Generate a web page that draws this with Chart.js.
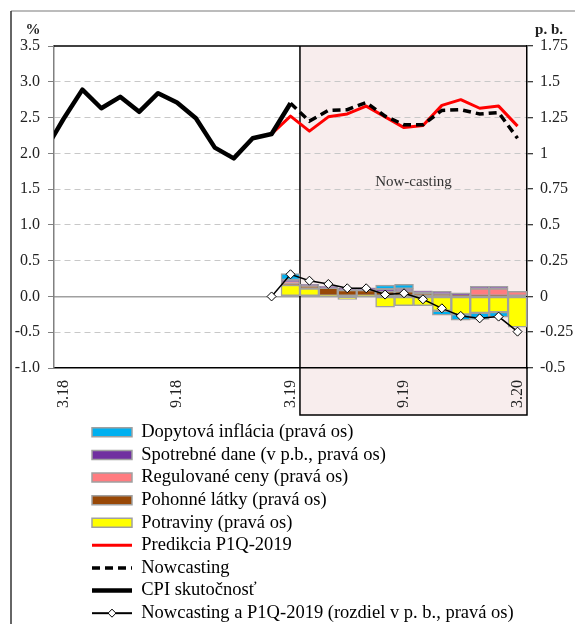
<!DOCTYPE html>
<html><head><meta charset="utf-8">
<script src="https://cdn.jsdelivr.net/npm/chart.js@4.4.1/dist/chart.umd.min.js"></script>
<style>html,body{margin:0;padding:0;background:#fff;}canvas{display:block;}</style>
</head><body>
<canvas id="c" width="575" height="624"></canvas>
<script>
// ---- data ----
const categories = ['2.18','3.18','4.18','5.18','6.18','7.18','8.18','9.18','10.18','11.18','12.18','1.19','2.19','3.19','4.19','5.19','6.19','7.19','8.19','9.19','10.19','11.19','12.19','1.20','2.20','3.20'];
const tickLabels = ['3.18','9.18','3.19','9.19','3.20'];
const firstShown = '3.18';
const nowcastStart = '4.19';
const cpiActual = [2.03,2.48,2.89,2.63,2.79,2.58,2.84,2.71,2.49,2.08,1.93,2.21,2.27,2.70,null,null,null,null,null,null,null,null,null,null,null,null];
const prediction = [null,null,null,null,null,null,null,null,null,null,null,null,2.27,2.52,2.31,2.51,2.55,2.66,2.51,2.36,2.39,2.67,2.75,2.63,2.66,2.38];
const nowcast = [null,null,null,null,null,null,null,null,null,null,null,null,null,2.70,2.45,2.60,2.61,2.71,2.52,2.40,2.40,2.60,2.61,2.55,2.57,2.21];
const diffPb = [null,null,null,null,null,null,null,null,null,null,null,null,0.0,0.155,0.11,0.087,0.057,0.057,0.013,0.022,-0.02,-0.083,-0.136,-0.153,-0.141,-0.246];
const N13 = [null,null,null,null,null,null,null,null,null,null,null,null,null];
const food = N13.concat([0.08,0.055,0.005,-0.02,0.005,-0.075,-0.065,-0.065,-0.1,-0.125,-0.115,-0.11,-0.215]);
const fuel = N13.concat([0.01,0.02,0.055,0.045,0.04,0.035,0.035,0.025,0.015,0.005,0.005,0.005,null]);
const regulated = N13.concat([0.01,null,null,null,null,null,null,null,null,null,0.05,0.05,0.035]);
const excise = N13.concat([0.015,0.01,0.01,0.015,0.015,0.015,0.02,0.015,0.02,0.02,0.015,0.015,null]);
const demand = N13.concat([0.045,null,null,null,null,0.03,0.03,null,-0.03,-0.04,-0.045,-0.035,null]);

const SERIF = "'Liberation Serif','Times New Roman',serif";
Chart.defaults.font.family = SERIF;
Chart.defaults.color = '#222';

// legend sample for the diff series
const diffIcon = document.createElement('canvas');
diffIcon.width = 40; diffIcon.height = 12;
(function(){
  const g = diffIcon.getContext('2d');
  g.strokeStyle = '#000'; g.lineWidth = 2;
  g.beginPath(); g.moveTo(0,6); g.lineTo(40,6); g.stroke();
  g.beginPath(); g.moveTo(20,2); g.lineTo(24,6); g.lineTo(20,10); g.lineTo(16,6); g.closePath();
  g.fillStyle = '#fff'; g.fill(); g.lineWidth = 1; g.stroke();
})();
const PAD = '\u00a0'.repeat(70);
const LEGEND_X = 92;

const barStyle = (label, data, color, order) => ({
  type: 'bar', label, data, backgroundColor: color, borderColor: '#a0a0a0', borderWidth: 1.5,
  borderSkipped: false, yAxisID: 'y2', stack: 'contrib', order,
  barPercentage: 1, categoryPercentage: 1
});

const decor = {
  id: 'decor',
  beforeDraw(chart) {
    const {ctx, chartArea: a, scales: {x, y}} = chart;
    if (chart.legend) chart.legend.left = LEGEND_X - chart.legend.options.labels.padding;
    ctx.save();
    // outer frame
    ctx.lineWidth = 1.5;
    ctx.strokeStyle = '#a6a6a6';
    ctx.beginPath(); ctx.moveTo(11, 11); ctx.lineTo(575, 11); ctx.stroke();
    ctx.strokeStyle = '#333';
    ctx.beginPath(); ctx.moveTo(11, 11); ctx.lineTo(11, 624); ctx.stroke();
    // now-casting shaded area
    const i0 = categories.indexOf(nowcastStart);
    const x0 = (x.getPixelForValue(i0 - 1) + x.getPixelForValue(i0)) / 2;
    const yb = x.bottom - 4;
    ctx.fillStyle = '#f8eded';
    ctx.fillRect(x0, a.top, a.right - x0, yb - a.top);
    ctx.fillStyle = '#333';
    ctx.font = '15px ' + SERIF;
    ctx.textAlign = 'center'; ctx.textBaseline = 'middle';
    ctx.fillText('Now-casting', (x0 + a.right) / 2, y.getPixelForValue(1.6));
    // unit labels
    ctx.fillStyle = '#222';
    ctx.font = 'bold 15px ' + SERIF;
    ctx.fillText('%', a.left - 21, a.top - 16);
    ctx.fillText('p. b.', a.right + 22, a.top - 16);
    ctx.restore();
  },
  beforeDatasetsDraw(chart) {
    const {ctx, chartArea: a, scales: {x}} = chart;
    const i0 = categories.indexOf(nowcastStart);
    const x0 = (x.getPixelForValue(i0 - 1) + x.getPixelForValue(i0)) / 2;
    const yb = x.bottom - 4;
    ctx.save();
    ctx.strokeStyle = '#000'; ctx.lineWidth = 1.5;
    ctx.beginPath();
    ctx.moveTo(x0, a.top); ctx.lineTo(x0, yb); ctx.lineTo(a.right, yb); ctx.lineTo(a.right, a.bottom);
    ctx.stroke();
    ctx.beginPath(); ctx.moveTo(a.left, a.top); ctx.lineTo(a.right, a.top); ctx.stroke();
    ctx.restore();
  }
};

new Chart(document.getElementById('c'), {
  data: {
    labels: categories,
    datasets: [
      barStyle('Dopytová inflácia (pravá os)', demand, '#00b0f0', 8),
      barStyle('Spotrebné dane (v p.b., pravá os)', excise, '#7030a0', 7),
      barStyle('Regulované ceny (pravá os)', regulated, '#ff7c80', 6),
      barStyle('Pohonné látky (pravá os)', fuel, '#984807', 5),
      barStyle('Potraviny (pravá os)', food, '#ffff00', 4),
      { type: 'line', label: 'Predikcia P1Q-2019', data: prediction, borderColor: '#ff0000', backgroundColor: '#ff0000',
        borderWidth: 3, pointRadius: 0, yAxisID: 'y', order: 3, borderJoinStyle: 'round' },
      { type: 'line', label: 'Nowcasting', data: nowcast, borderColor: '#000', backgroundColor: '#000',
        borderWidth: 3.5, borderDash: [8, 5], pointRadius: 0, yAxisID: 'y', order: 2 },
      { type: 'line', label: 'CPI skutočnosť', data: cpiActual, borderColor: '#000', backgroundColor: '#000',
        borderWidth: 4.5, pointRadius: 0, yAxisID: 'y', order: 1, clip: 0, borderJoinStyle: 'round' },
      { type: 'line', label: 'Nowcasting a P1Q-2019 (rozdiel v p. b., pravá os)', data: diffPb,
        borderColor: '#000', backgroundColor: '#fff', borderWidth: 1.5, pointStyle: 'rectRot', pointRadius: 4.5,
        pointBackgroundColor: '#fff', pointBorderColor: '#000', pointBorderWidth: 1, yAxisID: 'y2', stack: 'diff', order: 0 }
    ]
  },
  options: {
    responsive: false,
    animation: false,
    devicePixelRatio: 1,
    layout: { padding: { top: 46, bottom: -8.4, left: 0, right: 0 } },
    plugins: {
      tooltip: { enabled: false },
      legend: {
        position: 'bottom', align: 'start',
        labels: {
          usePointStyle: true, pointStyleWidth: 40, boxHeight: 9, padding: 4.1,
          color: '#000', font: { size: 18.5, family: SERIF },
          sort: (a, b) => a.datasetIndex - b.datasetIndex,
          generateLabels(chart) {
            const items = Chart.defaults.plugins.legend.labels.generateLabels(chart);
            return items.map(it => {
              const ds = chart.data.datasets[it.datasetIndex];
              if (ds.type === 'bar') { it.pointStyle = 'rect'; it.lineWidth = 1.5; it.strokeStyle = '#a0a0a0'; it.lineDash = []; }
              else if (ds.pointStyle === 'rectRot') { it.pointStyle = diffIcon; }
              else {
                it.pointStyle = 'line';
                it.lineWidth = ds.borderWidth;
                it.strokeStyle = ds.borderColor;
                it.lineDash = ds.borderDash || [];
              }
              it.text = it.text + PAD;
              return it;
            });
          }
        }
      }
    },
    scales: {
      x: {
        type: 'category', min: firstShown, offset: true, stacked: true,
        grid: { drawOnChartArea: false, drawTicks: false },
        border: { color: '#000', width: 1.5 },
        ticks: {
          autoSkip: false, minRotation: 90, maxRotation: 90, padding: 12,
          font: { size: 16 }, color: '#222',
          callback(v) { const l = this.getLabelForValue(v); return tickLabels.includes(l) ? l : ''; }
        },
        afterFit(s) { s.height = 51; }
      },
      y: {
        position: 'left', min: -1, max: 3.5,
        ticks: { stepSize: 0.5, padding: 8, font: { size: 16 }, color: '#222', callback: v => v.toFixed(1) },
        grid: {
          color: c => (c.tick && c.tick.value > -0.99 && c.tick.value < 3.49 && Math.abs(c.tick.value) > 1e-6) ? '#c8c8c8' : 'rgba(0,0,0,0)',
          lineWidth: 1, tickColor: '#808080', tickLength: 6, tickWidth: 1
        },
        border: { color: '#808080', width: 1.5, dash: [6, 4] },
        afterFit(s) { s.width = 54; }
      },
      y2: {
        position: 'right', min: -0.5, max: 1.75, stacked: true,
        ticks: { stepSize: 0.25, padding: 7, font: { size: 16 }, color: '#222', callback: v => String(+v.toFixed(2)) },
        grid: {
          color: c => (c.tick && Math.abs(c.tick.value) < 1e-6) ? '#a0a0a0' : 'rgba(0,0,0,0)',
          lineWidth: 1.5, tickColor: '#000', tickLength: 6, tickWidth: 1
        },
        border: { color: '#000', width: 1.5, dash: [] },
        afterFit(s) { s.width = 48; }
      }
    }
  },
  plugins: [decor]
});
</script>
</body></html>
